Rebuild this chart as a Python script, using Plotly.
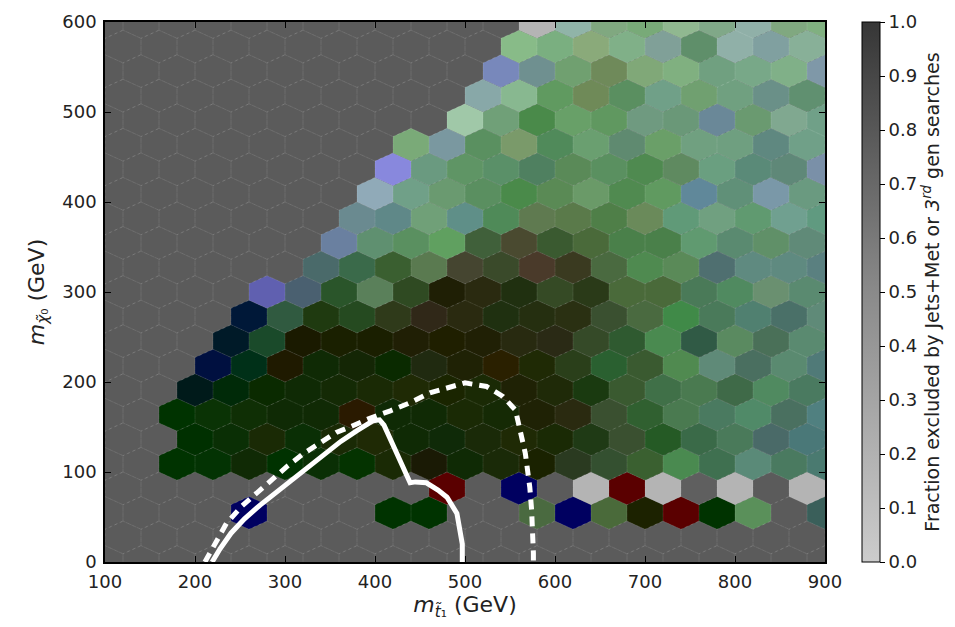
import plotly.graph_objects as go

# ---------------- data ----------------
# hexbin grid (matplotlib-style lattice): x 100..900, y 0..600
X_MIN, X_MAX, Y_MIN, Y_MAX = 100, 900, 0, 600
NX, NY = 20, 11
BG = "#5b5b5b"          # colour of cells with no overlay (grey from colour bar)

# each row: (first coloured column index, list of cell colours; None = background grey)
row_02 = (4, ["#000060", None, None, None, "#003300", "#003300", None, None, "#4a6a40", "#000060",
              "#4a6a3a", "#1c2200", "#5a0000", "#003300", "#5a905a", None, "#3a5f5a"])
row_03 = (9, ["#5a0000", None, "#000060", None, "#b4b4b4", "#5a0000", "#b4b4b4", "#5f5f5f",
              "#b4b4b4", None, "#b4b4b4"])
row_04 = (2, ["#003300", "#033303", "#102a05", "#003200", "#0a2f05", "#043300", "#1a2a05", "#1a1a05",
              "#0f2a05", "#1a2a08", "#1a2200", "#2a3a20", "#345030", "#3a6030", "#4a8a50", "#3f7050",
              "#5a8a78", "#4a7a60", "#4a7a70"])
row_05 = (2, ["#003000", "#0a2f05", "#1a2a05", "#0a2f05", "#1a2a05", "#1f2a05", "#0f2a05", "#0f2a08",
              "#1a2a08", "#1f2a05", "#1a2a05", "#1f3a15", "#3a5030", "#255a25", "#3a6a48", "#4a7a5a",
              "#4a6a68", "#4a7878"])
row_06 = (2, ["#003300", "#0a3305", "#0f2f05", "#0f2a05", "#102a05", "#2a1a00", "#0f2a05", "#102a05",
              "#1a2a05", "#152a05", "#1f2205", "#2a2a10", "#3a5030", "#306030", "#4a7a50", "#4a7a60",
              "#508a68", "#4a7060", "#508080"])
row_07 = (2, ["#001a1a", "#002a08", "#0a2a00", "#0f2a05", "#142a05", "#1a2a05", "#1f2a05", "#1a2500",
              "#1a2a05", "#1f2205", "#1f2a08", "#1a3a10", "#3a5a30", "#407048", "#4a7a50", "#3f6a48",
              "#508a60", "#4a7a60"])
row_08 = (3, ["#001040", "#003018", "#1f1a00", "#0f2a05", "#142605", "#0a2a00", "#202a10", "#1f2205",
              "#2a2000", "#1f2a05", "#2a3f1a", "#2a6030", "#3a5a30", "#508a50", "#5f8a78", "#4a6f60",
              "#5a8a70", "#507a78"])
row_09 = (3, ["#001a28", "#1a4a2a", "#1a1a00", "#1a2000", "#1a1f00", "#201f05", "#1f1f00", "#202005",
              "#282a10", "#2a2a15", "#354a28", "#2f5a30", "#4a8a50", "#305a45", "#5a8a60", "#4a7058",
              "#5a8a70"])
row_10 = (4, ["#001838", "#305a40", "#1f3a10", "#254a20", "#2f3a1a", "#302818", "#2a2a10", "#1f3010",
              "#252f10", "#2a3012", "#3a5030", "#4a6a40", "#408a48", "#4a7a5a", "#508070", "#4a7068",
              "#5f8a78"])
row_11 = (4, ["#6060b0", "#4a6070", "#2a552a", "#5a805a", "#2f4a22", "#1f1f05", "#2a2a10", "#203010",
              "#354a25", "#2a3a18", "#4a6a3a", "#4a6a3a", "#4a7a58", "#508a60", "#6a9070", "#5a8a70"])
row_12 = (6, ["#4a6a6a", "#3a6a4a", "#3a5f30", "#5a7a50", "#454530", "#3a4a2a", "#4a3a2a", "#3a3a20",
              "#4a6a40", "#4f8a50", "#5a8a58", "#4f6f70", "#5f8a80", "#5f8a80", "#5a8080"])
row_13 = (6, ["#6a80a0", "#5f9070", "#5a9060", "#60a060", "#40603a", "#4a4a30", "#3a5a30", "#4a6a3a",
              "#4a804a", "#4a804a", "#609a70", "#5a8a70", "#609068", "#608a78"])
row_14 = (7, ["#6a8a90", "#5f8888", "#70a078", "#5f8f88", "#4f8a58", "#5f7a50", "#5a7a4a", "#4f7f48",
              "#6a8a5a", "#609a78", "#70a080", "#609a70", "#70a090", "#609a80"])
row_15 = (7, ["#90aab8", "#70a088", "#6a9a70", "#5a8f60", "#4a8a4a", "#5a8a55", "#6a9a68", "#508a50",
              "#609a60", "#60889a", "#609078", "#7a98a8", "#6a9a80"])
row_16 = (8, ["#8888dd", "#6a9a80", "#5f9565", "#5a9068", "#4f8060", "#5a8a58", "#5a9060", "#4f8a50",
              "#5f8a60", "#6a9f80", "#5a8a78", "#5f8878", "#7a90a8"])
row_17 = (8, ["#7aaa78", "#7a98a0", "#5a9060", "#7a9a6a", "#508a5a", "#6a9f70", "#5f8a70", "#6a9f68",
              "#70a080", "#6f9f80", "#5f8880", "#70a088"])
row_18 = (10, ["#a0c8a8", "#70a078", "#4a8a4a", "#68a068", "#609860", "#6f9a80", "#6a9878", "#6a8898",
               "#6a9a70", "#80a890", "#70a088"])
row_19 = (10, ["#88a8a8", "#88b890", "#609a60", "#6f8a58", "#5a8f60", "#70a088", "#70a070", "#70a080",
               "#6a9088", "#609070"])
row_20 = (11, ["#7888bb", "#6f9090", "#70a070", "#6f8a5a", "#80a878", "#80b080", "#70a080", "#78a888",
               "#80b088", "#7f98a8"])
row_21 = (11, ["#88bb88", "#7aaf80", "#8aaa7a", "#80b088", "#80a098", "#5f8f6a", "#90b0a8", "#80a0a0",
               "#88b098"])
row_22 = (12, ["#b4b4b4", "#90b4a8", "#80a880", "#78aa78", "#90b890", "#80a888", "#90b0a8", "#80a880",
               "#80b080"])

ROWS = {2: row_02, 3: row_03, 4: row_04, 5: row_05, 6: row_06, 7: row_07, 8: row_08, 9: row_09,
        10: row_10, 11: row_11, 12: row_12, 13: row_13, 14: row_14, 15: row_15, 16: row_16,
        17: row_17, 18: row_18, 19: row_19, 20: row_20, 21: row_21, 22: row_22}

# exclusion contours
solid_x = [219, 228, 240, 255, 272, 292, 315, 340, 362, 380, 398, 405, 410, 420, 439, 445, 457, 470,
           480, 491, 495, 497, 497]
solid_y = [0, 15, 32, 48, 63, 79, 97, 117, 134, 146, 157, 158, 152, 130, 88, 89, 88, 80,
           72, 54, 35, 20, 0]
dash_x = [211, 222, 235, 252, 269, 285, 302, 320, 339, 357, 372, 395, 417, 439, 461, 480, 500, 524,
          542, 556, 561, 567, 572, 574, 576, 576]
dash_y = [0, 20, 43, 62, 77, 92, 106, 120, 132, 144, 150, 160, 168, 177, 188, 194, 199, 195,
          184, 169, 147, 121, 83, 58, 10, 0]

cbar_ticks = [0.0, 0.1, 0.2, 0.3, 0.4, 0.5, 0.6, 0.7, 0.8, 0.9, 1.0]
x_ticks = [100, 200, 300, 400, 500, 600, 700, 800, 900]
y_ticks = [0, 100, 200, 300, 400, 500, 600]

# ---------------- geometry ----------------
SX = (X_MAX - X_MIN) / NX
SY = (Y_MAX - Y_MIN) / NY
HEX_OFF = [(0.5, -0.5), (0.5, 0.5), (0.0, 1.0), (-0.5, 0.5), (-0.5, -0.5), (0.0, -1.0), (0.5, -0.5)]


def center(r, i):
    if r % 2 == 0:
        return X_MIN + i * SX, Y_MIN + (r // 2) * SY
    return X_MIN + (i + 0.5) * SX, Y_MIN + (r // 2 + 0.5) * SY


groups = {}
edge_x, edge_y = [], []
for r in range(2 * NY + 1):
    ncol = NX + 1 if r % 2 == 0 else NX
    start, cols = ROWS.get(r, (0, []))
    for i in range(ncol):
        j = i - start
        c = cols[j] if 0 <= j < len(cols) and cols[j] else BG
        cx, cy = center(r, i)
        hx = [cx + dx * SX for dx, dy in HEX_OFF]
        hy = [cy + dy * SY / 3 for dx, dy in HEX_OFF]
        gx, gy = groups.setdefault(c, ([], []))
        gx.extend(hx + [None])
        gy.extend(hy + [None])
        edge_x.extend(hx + [None])
        edge_y.extend(hy + [None])

fig = go.Figure()
for c, (gx, gy) in groups.items():
    fig.add_trace(go.Scatter(x=gx, y=gy, mode="lines", fill="toself", fillcolor=c,
                             line=dict(width=0, color=c), hoverinfo="skip", showlegend=False))

fig.add_trace(go.Scatter(x=edge_x, y=edge_y, mode="lines",
                         line=dict(width=0.8, color="rgba(255,255,255,0.13)", dash="dot"),
                         hoverinfo="skip", showlegend=False))

fig.add_trace(go.Scatter(x=solid_x, y=solid_y, mode="lines", line=dict(color="white", width=5),
                         hoverinfo="skip", showlegend=False))
fig.add_trace(go.Scatter(x=dash_x, y=dash_y, mode="lines",
                         line=dict(color="white", width=5, dash="10px,7px"),
                         hoverinfo="skip", showlegend=False))

# colour bar
fig.add_trace(go.Scatter(
    x=[None], y=[None], mode="markers", showlegend=False, hoverinfo="skip",
    marker=dict(color=[0.5], cmin=0, cmax=1,
                colorscale=[[0, "#cccccc"], [0.5, "#8a8a8a"], [1, "#363636"]],
                showscale=True,
                colorbar=dict(x=1.051, xanchor="left", y=0.5, yanchor="middle", len=1,
                              lenmode="fraction", thickness=18, xpad=0, ypad=0,
                              outlinecolor="black", outlinewidth=1,
                              tickvals=cbar_ticks, ticktext=[f"{v:.1f}" for v in cbar_ticks],
                              ticks="outside", ticklen=5, tickcolor="black",
                              tickfont=dict(size=18, color="#222"),
                              title=dict(text="Fraction excluded by Jets+Met or <i>3<sup>rd</sup></i> gen searches",
                                         side="right", font=dict(size=19, color="#222"))))))

axis_common = dict(showgrid=False, zeroline=False, showline=True, linecolor="black", linewidth=1.5,
                   mirror="ticks", ticks="inside", ticklen=6, tickcolor="black",
                   tickfont=dict(size=18, color="#222"))

fig.update_layout(
    width=955, height=627,
    margin=dict(l=105, r=130, t=22, b=65),
    paper_bgcolor="white", plot_bgcolor=BG,
    font=dict(family="DejaVu Sans", color="#222"),
    xaxis=dict(range=[X_MIN, X_MAX], tickvals=x_ticks, ticklabelstandoff=3, **axis_common,
               title=dict(text="<i>m</i><sub><i>t̃</i>₁</sub> (GeV)", font=dict(size=22), standoff=2)),
    yaxis=dict(range=[Y_MIN, Y_MAX], tickvals=y_ticks, ticklabelstandoff=3, **axis_common,
               title=dict(text="<i>m</i><sub><i>χ̃</i>₀</sub> (GeV)", font=dict(size=22), standoff=12)),
)

fig.write_html("out.html")
